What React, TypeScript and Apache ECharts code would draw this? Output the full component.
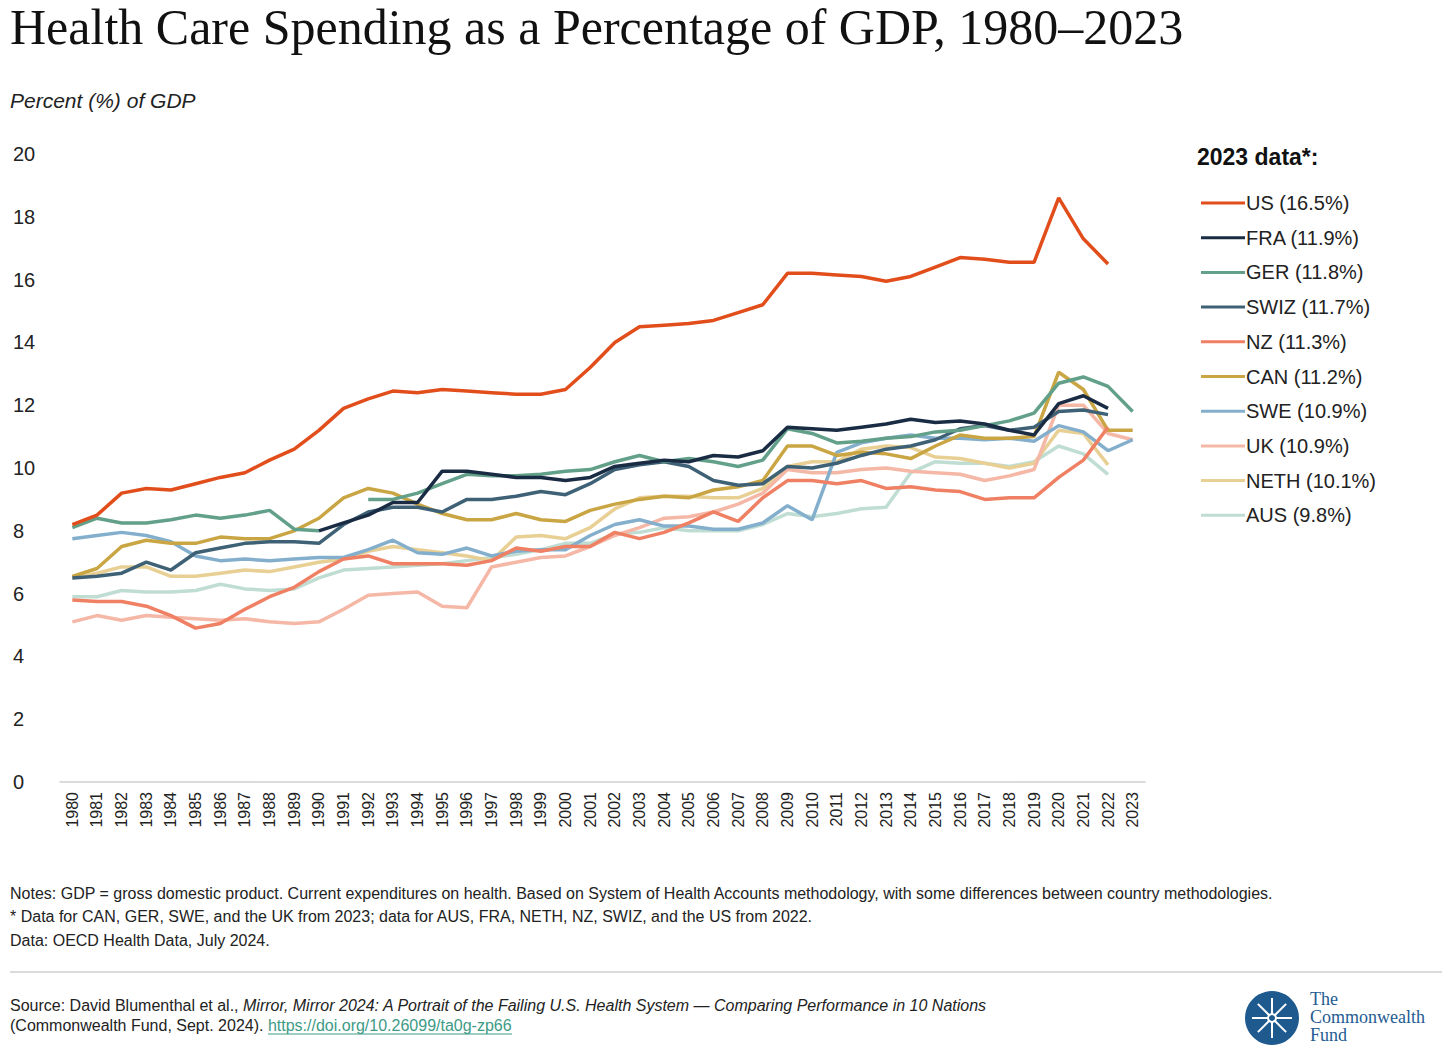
import { useRef, useEffect } from 'react'
import * as echarts from 'echarts'

const YEARS = Array.from({ length: 44 }, (_, i) => String(1980 + i))

const US = [8.2, 8.5, 9.2, 9.35, 9.3, 9.5, 9.7, 9.85, 10.25, 10.6, 11.2, 11.9, 12.2, 12.45, 12.4, 12.5, 12.45, 12.4, 12.35, 12.35, 12.5, 13.2, 14.0, 14.5, 14.55, 14.6, 14.7, 14.95, 15.2, 16.2, 16.2, 16.15, 16.1, 15.95, 16.1, 16.4, 16.7, 16.65, 16.55, 16.55, 18.6, 17.3, 16.5, null]
const FRA = [null, null, null, null, null, null, null, null, null, null, 8.0, 8.25, 8.5, 8.9, 8.9, 9.9, 9.9, 9.8, 9.7, 9.7, 9.6, 9.7, 10.05, 10.15, 10.25, 10.2, 10.4, 10.35, 10.55, 11.3, 11.25, 11.2, 11.3, 11.4, 11.55, 11.45, 11.5, 11.4, 11.2, 11.05, 12.05, 12.3, 11.9, null]
const GER = [8.1, 8.4, 8.25, 8.25, 8.35, 8.5, 8.4, 8.5, 8.65, 8.05, 8.0, null, 9.0, 9.0, 9.2, 9.5, 9.8, 9.75, 9.75, 9.8, 9.9, 9.95, 10.2, 10.4, 10.2, 10.3, 10.2, 10.05, 10.25, 11.25, 11.1, 10.8, 10.85, 10.95, 11.0, 11.15, 11.2, 11.35, 11.5, 11.75, 12.7, 12.9, 12.6, 11.8]
const SWIZ = [6.5, 6.55, 6.65, 7.0, 6.75, 7.3, 7.45, 7.6, 7.65, 7.65, 7.6, 8.2, 8.6, 8.75, 8.75, 8.6, 9.0, 9.0, 9.1, 9.25, 9.15, 9.5, 9.95, 10.1, 10.2, 10.05, 9.6, 9.45, 9.5, 10.05, 10.0, 10.15, 10.4, 10.6, 10.7, 10.9, 11.25, 11.35, 11.2, 11.3, 11.8, 11.85, 11.7, null]
const NZ = [5.8, 5.75, 5.75, 5.6, 5.3, 4.9, 5.05, 5.5, 5.9, 6.2, 6.7, 7.1, 7.2, 6.95, 6.95, 6.95, 6.9, 7.05, 7.45, 7.35, 7.5, 7.5, 7.95, 7.75, 7.95, 8.25, 8.6, 8.3, 9.05, 9.6, 9.6, 9.5, 9.6, 9.35, 9.4, 9.3, 9.25, 9.0, 9.05, 9.05, 9.7, 10.25, 11.3, null]
const CAN = [6.55, 6.8, 7.5, 7.7, 7.6, 7.6, 7.8, 7.75, 7.75, 8.0, 8.4, 9.05, 9.35, 9.2, 8.85, 8.55, 8.35, 8.35, 8.55, 8.35, 8.3, 8.65, 8.85, 9.0, 9.1, 9.05, 9.3, 9.4, 9.6, 10.7, 10.7, 10.4, 10.5, 10.45, 10.3, 10.7, 11.05, 10.95, 10.95, 11.0, 13.05, 12.5, 11.2, 11.2]
const SWE = [7.75, 7.85, 7.95, 7.85, 7.65, 7.2, 7.05, 7.1, 7.05, 7.1, 7.15, 7.15, 7.4, 7.7, 7.3, 7.25, 7.45, 7.2, 7.35, 7.4, 7.4, 7.85, 8.2, 8.35, 8.15, 8.15, 8.05, 8.05, 8.25, 8.8, 8.35, 10.5, 10.8, 10.95, 11.05, 10.95, 10.95, 10.9, 10.95, 10.85, 11.35, 11.15, 10.55, 10.9]
const UK = [5.1, 5.3, 5.15, 5.3, 5.25, 5.2, 5.15, 5.2, 5.1, 5.05, 5.1, 5.5, 5.95, 6.0, 6.05, 5.6, 5.55, 6.85, 7.0, 7.15, 7.2, 7.5, 7.85, 8.1, 8.4, 8.45, 8.6, 8.85, 9.2, 9.95, 9.85, 9.85, 9.95, 10.0, 9.9, 9.85, 9.8, 9.6, 9.75, 9.95, 12.0, 12.0, 11.1, 10.9]
const NETH = [6.5, 6.65, 6.85, 6.85, 6.55, 6.55, 6.65, 6.75, 6.7, 6.85, 7.0, 7.1, 7.35, 7.5, 7.4, 7.3, 7.2, 7.05, 7.8, 7.85, 7.75, 8.1, 8.7, 9.05, 9.1, 9.1, 9.05, 9.05, 9.35, 10.05, 10.2, 10.2, 10.6, 10.7, 10.65, 10.35, 10.3, 10.15, 10.0, 10.15, 11.2, 11.1, 10.1, null]
const AUS = [5.9, 5.9, 6.1, 6.05, 6.05, 6.1, 6.3, 6.15, 6.1, 6.15, 6.5, 6.75, 6.8, 6.85, 6.9, 6.95, 7.05, 7.15, 7.25, 7.4, 7.6, 7.6, 7.9, 7.95, 8.1, 8.0, 8.0, 8.0, 8.2, 8.55, 8.45, 8.55, 8.7, 8.75, 9.85, 10.2, 10.15, 10.15, 10.05, 10.2, 10.7, 10.45, 9.8, null]

const SERIES = [
  { name: 'US (16.5%)', data: US, color: '#e24e1b' },
  { name: 'FRA (11.9%)', data: FRA, color: '#1a2c44' },
  { name: 'GER (11.8%)', data: GER, color: '#62a089' },
  { name: 'SWIZ (11.7%)', data: SWIZ, color: '#3e6176' },
  { name: 'NZ (11.3%)', data: NZ, color: '#ef8064' },
  { name: 'CAN (11.2%)', data: CAN, color: '#c9a543' },
  { name: 'SWE (10.9%)', data: SWE, color: '#84afcc' },
  { name: 'UK (10.9%)', data: UK, color: '#f5b7a6' },
  { name: 'NETH (10.1%)', data: NETH, color: '#e8cf94' },
  { name: 'AUS (9.8%)', data: AUS, color: '#c0ddd3' },
]

const SANS = 'Liberation Sans, Arial, sans-serif'
const SERIF = 'Liberation Serif, serif'

function buildOption(): echarts.EChartsOption {
  const spokes = Array.from({ length: 8 }, (_, i) => {
    const a = (i * Math.PI) / 4
    return {
      type: 'line' as const,
      shape: { x1: 1272, y1: 1018, x2: 1272 + Math.cos(a) * 20, y2: 1018 + Math.sin(a) * 20 },
      style: { stroke: '#ffffff', lineWidth: 2 },
    }
  })
  return {
    animation: false,
    backgroundColor: '#ffffff',
    grid: { left: 60, right: 307, top: 154, bottom: 274 },
    legend: {
      orient: 'vertical',
      left: 1196,
      top: 188,
      icon: 'rect',
      itemWidth: 44,
      itemHeight: 3,
      itemGap: 14.7,
      textStyle: { fontSize: 20, color: '#222', fontFamily: SANS, padding: [0, 0, 0, -4] },
      data: SERIES.map((s) => s.name),
    },
    xAxis: {
      type: 'category',
      data: YEARS,
      boundaryGap: true,
      axisLine: { lineStyle: { color: '#d0d0d0', width: 1.5 } },
      axisTick: { show: false },
      axisLabel: { rotate: 90, fontSize: 16, color: '#222', fontFamily: SANS, interval: 0, margin: 10 },
    },
    yAxis: {
      type: 'value',
      min: 0,
      max: 20,
      interval: 2,
      axisLine: { show: false },
      axisTick: { show: false },
      splitLine: { show: false },
      axisLabel: { fontSize: 20, color: '#222', fontFamily: SANS, align: 'left', margin: 47 },
    },
    series: SERIES.map((s, i) => ({
      name: s.name,
      type: 'line' as const,
      data: s.data,
      symbol: 'none',
      z: 20 - i,
      lineStyle: { color: s.color, width: 3.5 },
      itemStyle: { color: s.color },
    })),
    graphic: [
      { type: 'text', left: 10, top: 2, style: { text: 'Health Care Spending as a Percentage of GDP, 1980–2023', fontSize: 50, fontFamily: SERIF, fill: '#111', letterSpacing: -0.8 } as any },
      { type: 'text', left: 10, top: 90, style: { text: 'Percent (%) of GDP', fontSize: 21, fontStyle: 'italic', fontFamily: SANS, fill: '#222' } },
      { type: 'text', left: 1197, top: 145, style: { text: '2023 data*:', fontSize: 23, fontWeight: 'bold', fontFamily: SANS, fill: '#111' } },
      { type: 'text', left: 10, top: 885, style: { text: 'Notes: GDP = gross domestic product. Current expenditures on health. Based on System of Health Accounts methodology, with some differences between country methodologies.', fontSize: 16, fontFamily: SANS, fill: '#222' } },
      { type: 'text', left: 10, top: 908, style: { text: '* Data for CAN, GER, SWE, and the UK from 2023; data for AUS, FRA, NETH, NZ, SWIZ, and the US from 2022.', fontSize: 16, fontFamily: SANS, fill: '#222' } },
      { type: 'text', left: 10, top: 932, style: { text: 'Data: OECD Health Data, July 2024.', fontSize: 16, fontFamily: SANS, fill: '#222' } },
      { type: 'line', shape: { x1: 10, y1: 972, x2: 1442, y2: 972 }, style: { stroke: '#cfcfcf', lineWidth: 1.5 } },
      {
        type: 'text', left: 10, top: 997,
        style: {
          text: '{n|Source: David Blumenthal et al., }{i|Mirror, Mirror 2024: A Portrait of the Failing U.S. Health System — Comparing Performance in 10 Nations}',
          rich: {
            n: { fontSize: 16, fontFamily: SANS, fill: '#222' },
            i: { fontSize: 16, fontFamily: SANS, fontStyle: 'italic', fill: '#222' },
          },
        } as any,
      },
      {
        type: 'text', left: 10, top: 1017,
        style: {
          text: '{n|(Commonwealth Fund, Sept. 2024). }{l|https://doi.org/10.26099/ta0g-zp66}',
          rich: {
            n: { fontSize: 16, fontFamily: SANS, fill: '#222' },
            l: { fontSize: 16, fontFamily: SANS, fill: '#3d9a86' },
          },
        } as any,
      },
      { type: 'line', shape: { x1: 268, y1: 1034, x2: 512, y2: 1034 }, style: { stroke: '#3d9a86', lineWidth: 1 } },
      { type: 'circle', shape: { cx: 1272, cy: 1018, r: 27 }, style: { fill: '#1f5a8f' } },
      ...spokes,
      { type: 'circle', shape: { cx: 1272, cy: 1018, r: 4 }, style: { fill: '#1f5a8f', stroke: '#ffffff', lineWidth: 2 } },
      { type: 'text', left: 1310, top: 990, style: { text: 'The\nCommonwealth\nFund', fontSize: 18, lineHeight: 18, fontFamily: SERIF, fill: '#245c92' } },
    ],
  }
}

export default function App() {
  const ref = useRef<HTMLDivElement>(null)

  useEffect(() => {
    document.body.style.margin = '0'
    const el = ref.current
    if (!el) return
    const chart = echarts.init(el, null, { renderer: 'svg' })
    chart.setOption(buildOption())
    return () => chart.dispose()
  }, [])

  return <div ref={ref} style={{ width: 1452, height: 1056 }} />
}
